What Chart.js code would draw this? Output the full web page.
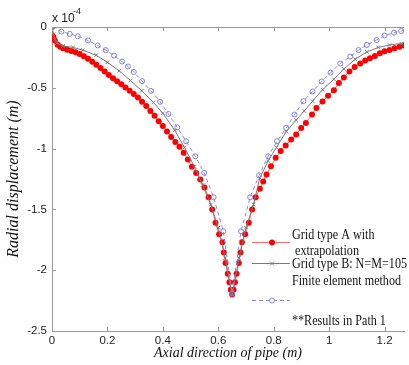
<!DOCTYPE html>
<html>
<head>
<meta charset="utf-8">
<script src="https://cdn.jsdelivr.net/npm/chart.js@4.4.1/dist/chart.umd.min.js"></script>
<style>
  html, body { margin: 0; padding: 0; background: #fff; overflow: hidden; }
  canvas { display: block; }
</style>
</head>
<body>
<canvas id="chart" width="409" height="365"></canvas>
<script>
// Данные (радиальное перемещение, x 10^-4 м)
const gridAX = [0, 0.005, 0.01, 0.02, 0.03, 0.04, 0.055, 0.07, 0.085, 0.10, 0.115, 0.13, 0.145, 0.16, 0.175, 0.19,
    0.205, 0.22, 0.235, 0.25, 0.265, 0.28, 0.295, 0.31, 0.325, 0.34, 0.355, 0.37, 0.385, 0.40, 0.415, 0.43,
    0.445, 0.46, 0.475, 0.49, 0.505, 0.52, 0.535, 0.55, 0.565, 0.578, 0.59, 0.603, 0.615, 0.62, 0.626, 0.634,
    0.64, 0.645, 0.65, 0.655, 0.66, 0.666, 0.674, 0.68, 0.685, 0.697, 0.71, 0.722, 0.735, 0.75, 0.762, 0.774,
    0.79, 0.807, 0.825, 0.843, 0.863, 0.881, 0.899, 0.916, 0.938, 0.954, 0.976, 0.996, 1.017, 1.035, 1.053,
    1.073, 1.092, 1.112, 1.13, 1.147, 1.165, 1.183, 1.2, 1.218, 1.236, 1.254, 1.272, 1.29, 1.3];
const gridAY = [0, -0.08, -0.11, -0.145, -0.162, -0.175, -0.188, -0.198, -0.208, -0.222, -0.24, -0.262, -0.285, -0.31, -0.338, -0.366,
    -0.395, -0.422, -0.446, -0.47, -0.497, -0.525, -0.55, -0.58, -0.615, -0.65, -0.69, -0.73, -0.775, -0.815, -0.86, -0.905,
    -0.945, -0.985, -1.035, -1.09, -1.15, -1.2, -1.255, -1.32, -1.4, -1.5, -1.61, -1.705, -1.77, -1.855, -1.94, -2.03,
    -2.1, -2.16, -2.2, -2.16, -2.1, -2.03, -1.94, -1.855, -1.77, -1.705, -1.61, -1.5, -1.4, -1.33, -1.27, -1.213,
    -1.145, -1.076, -1.02, -0.975, -0.926, -0.885, -0.83, -0.79, -0.72, -0.666, -0.612, -0.566, -0.52, -0.46, -0.415,
    -0.365, -0.328, -0.3, -0.276, -0.257, -0.238, -0.216, -0.2, -0.19, -0.175, -0.163, -0.152, -0.12, 0];

const gridBX = [0, 0.005, 0.01, 0.017, 0.04, 0.076, 0.111, 0.159, 0.2, 0.242, 0.283, 0.324, 0.366, 0.40, 0.443, 0.478,
    0.514, 0.543, 0.573, 0.6, 0.625, 0.65, 0.675, 0.7, 0.727, 0.75, 0.78, 0.81, 0.845, 0.881, 0.91, 0.94, 0.976,
    1.017, 1.053, 1.094, 1.136, 1.177, 1.218, 1.26, 1.29, 1.3];
const gridBY = [0, -0.06, -0.1, -0.134, -0.156, -0.168, -0.19, -0.232, -0.29, -0.36, -0.44, -0.525, -0.62, -0.71, -0.85, -0.99,
    -1.15, -1.3, -1.46, -1.65, -1.9, -2.2, -1.9, -1.65, -1.46, -1.24, -1.1, -0.99, -0.86, -0.765, -0.69, -0.61, -0.516,
    -0.43, -0.345, -0.265, -0.205, -0.168, -0.148, -0.136, -0.11, 0];

const femX = [0, 0.034, 0.064, 0.093, 0.13, 0.165, 0.194, 0.224, 0.253, 0.274, 0.295, 0.325, 0.357, 0.39, 0.42, 0.452,
    0.484, 0.517, 0.549, 0.583, 0.618, 0.65, 0.682, 0.715, 0.747, 0.78, 0.812, 0.845, 0.875, 0.907, 0.94, 0.973,
    1.005, 1.04, 1.076, 1.106, 1.136, 1.171, 1.2, 1.234, 1.26, 1.3];
const femY = [0, -0.038, -0.057, -0.076, -0.11, -0.152, -0.19, -0.235, -0.284, -0.325, -0.37, -0.445, -0.525, -0.615, -0.715, -0.825,
    -0.94, -1.063, -1.2, -1.4, -1.68, -2.19, -1.68, -1.4, -1.22, -1.063, -0.94, -0.83, -0.72, -0.61, -0.53, -0.448,
    -0.375, -0.3, -0.243, -0.19, -0.148, -0.107, -0.07, -0.047, -0.033, 0];

const xTicks = [0, 0.2, 0.4, 0.6, 0.8, 1, 1.2];
const yTicks = [0, -0.5, -1, -1.5, -2, -2.5];

const legendLines = [
    { text: 'Grid type A with', y: 235 },
    { text: ' extrapolation', y: 251 },
    { text: 'Grid type B: N=M=105', y: 264 },
    { text: 'Finite element method', y: 281 },
    { text: '**Results in Path 1', y: 321 }
];

const toPoints = (xs, ys) => xs.map((x, i) => ({ x: x, y: ys[i] }));

// Рамка, внутренние засечки, множитель и легенда
const decorPlugin = {
    id: 'decor',
    afterDraw(chart) {
        const ctx = chart.ctx;
        const area = chart.chartArea;
        const sx = chart.scales.x, sy = chart.scales.y;
        ctx.save();
        ctx.strokeStyle = '#9a9a9a';
        ctx.lineWidth = 1;
        ctx.beginPath();
        ctx.moveTo(area.left, area.top + 0.5);
        ctx.lineTo(area.right, area.top + 0.5);
        xTicks.forEach(v => {
            const px = Math.round(sx.getPixelForValue(v)) + 0.5;
            ctx.moveTo(px, area.bottom);
            ctx.lineTo(px, area.bottom - 4);
            ctx.moveTo(px, area.top);
            ctx.lineTo(px, area.top + 4);
        });
        yTicks.forEach(v => {
            const py = Math.round(sy.getPixelForValue(v)) + 0.5;
            ctx.moveTo(area.left, py);
            ctx.lineTo(area.left + 4, py);
        });
        ctx.stroke();

        // x 10^-4
        ctx.fillStyle = '#222';
        ctx.textBaseline = 'alphabetic';
        ctx.textAlign = 'left';
        ctx.font = '12px "Liberation Sans"';
        ctx.fillText('x 10', 52, 22);
        ctx.font = '9px "Liberation Sans"';
        ctx.fillText('-4', 73, 14);

        // легенда
        const lx0 = 252, lx1 = 290, lm = 272;
        ctx.lineWidth = 1;
        ctx.strokeStyle = 'rgba(255,70,70,0.8)';
        ctx.beginPath(); ctx.moveTo(lx0, 242.5); ctx.lineTo(lx1, 242.5); ctx.stroke();
        ctx.fillStyle = '#ff0000';
        ctx.beginPath(); ctx.arc(lm, 242.5, 3, 0, Math.PI * 2); ctx.fill();

        ctx.strokeStyle = '#7a7a7a';
        ctx.beginPath(); ctx.moveTo(lx0, 263.5); ctx.lineTo(lx1, 263.5);
        ctx.moveTo(lm - 2, 261.5); ctx.lineTo(lm + 2, 265.5);
        ctx.moveTo(lm - 2, 265.5); ctx.lineTo(lm + 2, 261.5); ctx.stroke();

        ctx.strokeStyle = '#8a8ae6';
        ctx.setLineDash([4, 3]);
        ctx.beginPath(); ctx.moveTo(lx0, 300.5); ctx.lineTo(lx1, 300.5); ctx.stroke();
        ctx.setLineDash([]);
        ctx.fillStyle = '#fff';
        ctx.beginPath(); ctx.arc(lm, 300.5, 2.5, 0, Math.PI * 2); ctx.fill(); ctx.stroke();

        // текст легенды, сжатый по ширине как в оригинале
        ctx.fillStyle = '#111';
        ctx.font = '14px "Liberation Serif"';
        ctx.textBaseline = 'middle';
        const k = 115 / ctx.measureText('Grid type B: N=M=105').width;
        ctx.translate(292, 0);
        ctx.scale(k, 1);
        legendLines.forEach(l => ctx.fillText(l.text, 0, l.y));
        ctx.restore();
    }
};

const ctx = document.getElementById('chart').getContext('2d');
new Chart(ctx, {
    type: 'line',
    data: {
        datasets: [
            {
                label: 'Grid type A with extrapolation',
                data: toPoints(gridAX, gridAY),
                borderColor: 'rgba(255,70,70,0.8)',
                borderWidth: 1,
                pointRadius: 3,
                pointBackgroundColor: '#ff0000',
                pointBorderWidth: 0,
                order: 2
            },
            {
                label: 'Grid type B: N=M=105',
                data: toPoints(gridBX, gridBY),
                borderColor: '#7a7a7a',
                borderWidth: 1,
                pointStyle: 'crossRot',
                pointRadius: 2.5,
                pointBorderColor: '#7a7a7a',
                pointBorderWidth: 1,
                order: 1
            },
            {
                label: 'Finite element method',
                data: toPoints(femX, femY),
                borderColor: '#8a8ae6',
                borderWidth: 1,
                borderDash: [4, 3],
                pointStyle: 'circle',
                pointRadius: 2.5,
                pointBackgroundColor: 'rgba(255,255,255,0)',
                pointBorderColor: '#8080e0',
                pointBorderWidth: 1,
                order: 0
            }
        ]
    },
    options: {
        responsive: false,
        animation: false,
        devicePixelRatio: 1,
        layout: { padding: { left: 0, top: 27, right: 0, bottom: 0 } },
        plugins: {
            legend: { display: false },
            tooltip: { enabled: false }
        },
        scales: {
            x: {
                type: 'linear',
                min: 0,
                max: 1.27,
                afterFit: s => { s.height = 34; },
                afterBuildTicks: s => { s.ticks = xTicks.map(v => ({ value: v })); },
                ticks: {
                    includeBounds: false,
                    padding: 3,
                    color: '#222',
                    font: { family: 'Liberation Sans', size: 11.5 },
                    maxRotation: 0,
                    callback: v => String(+v.toFixed(1))
                },
                grid: { drawOnChartArea: false, drawTicks: false },
                border: { display: true, color: '#9a9a9a' },
                title: {
                    display: true,
                    text: 'Axial direction of pipe (m)',
                    color: '#111',
                    font: { family: 'Liberation Serif', style: 'italic', size: 14 },
                    padding: { top: 0, bottom: 3.5 }
                }
            },
            y: {
                type: 'linear',
                min: -2.5,
                max: 0,
                afterFit: s => { s.width = 52; },
                afterBuildTicks: s => { s.ticks = yTicks.map(v => ({ value: v })); },
                ticks: {
                    padding: 5,
                    color: '#222',
                    font: { family: 'Liberation Sans', size: 11.5 },
                    callback: v => String(+v.toFixed(1))
                },
                grid: { drawOnChartArea: false, drawTicks: false },
                border: { display: true, color: '#9a9a9a' },
                title: {
                    display: true,
                    text: 'Radial displacement (m)',
                    color: '#111',
                    font: { family: 'Liberation Serif', style: 'italic', size: 16 },
                    padding: { top: 4.5, bottom: 0 }
                }
            }
        }
    },
    plugins: [decorPlugin]
});
</script>
</body>
</html>
